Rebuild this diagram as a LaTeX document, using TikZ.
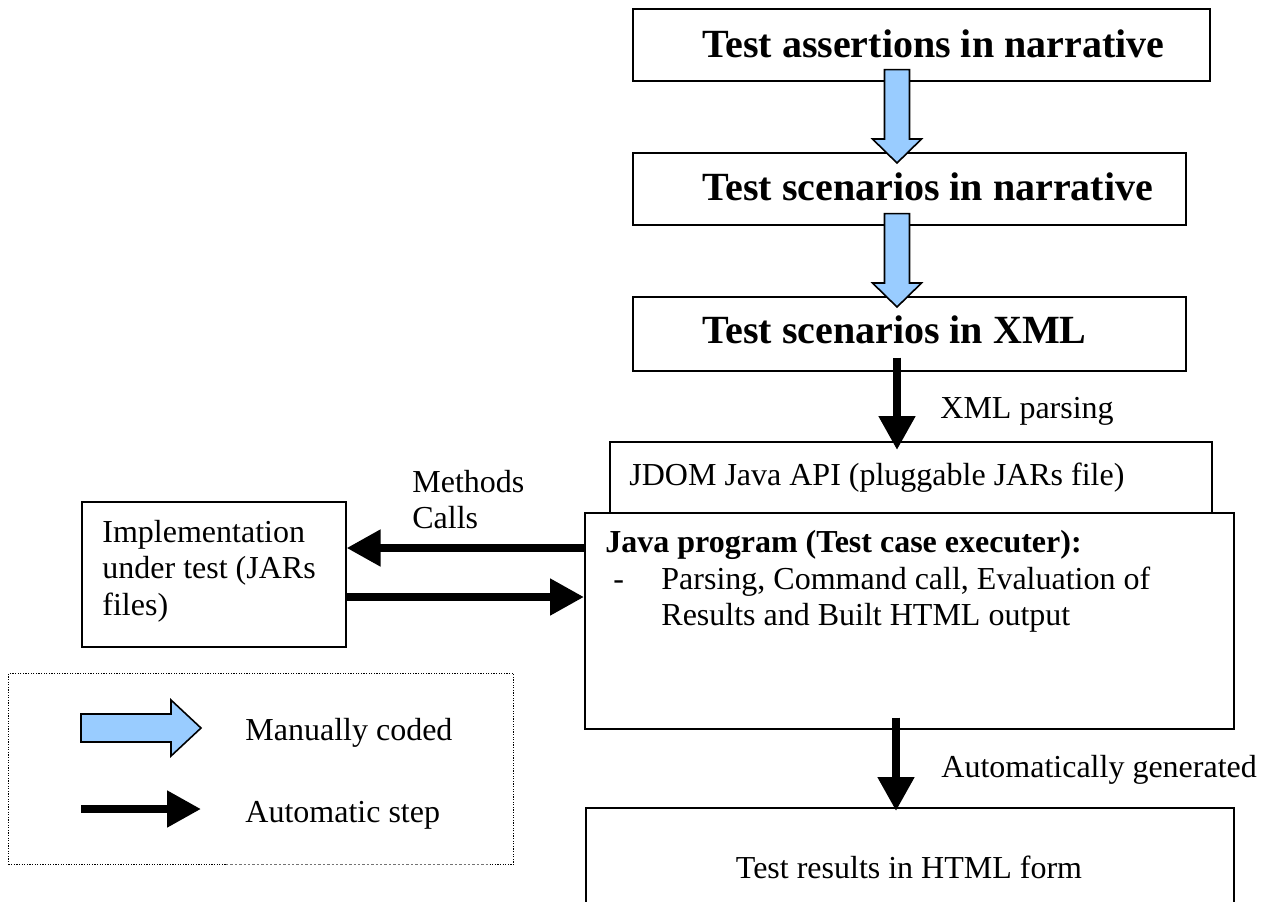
\documentclass[tikz,border=0pt]{standalone}
\usepackage{fontspec}
\setmainfont{Liberation Serif}
\usetikzlibrary{arrows.meta,calc}
\definecolor{manualblue}{HTML}{99CCFF}
\tikzset{
  box/.style={draw, line width=0.8pt, fill=white, inner sep=0pt, anchor=north west},
  legendbox/.style={draw, line width=0.6pt, dash pattern=on 0.6pt off 0.7pt, inner sep=0pt, anchor=north west},
  title/.style={font=\fontsize{20}{24}\selectfont\bfseries, inner sep=0pt, anchor=base west},
  txt/.style={font=\fontsize{16}{19}\selectfont, inner sep=0pt, anchor=base west},
  boldtxt/.style={txt, font=\fontsize{16}{19}\selectfont\bfseries},
  auto step/.style={line width=4pt, -{Triangle[length=17pt,width=17.5pt]}},
  manual/.style={draw, line width=0.8pt, fill=manualblue, line join=miter},
}
% wide light-blue block arrow pointing down from #1 to #2
\newcommand\manualarrow[2]{%
  \path[manual] let \p1=(#1), \p2=(#2) in
    (\x1-6.25pt,\y1) -- (\x1-6.25pt,\y2+12pt) -- (\x1-12.25pt,\y2+12pt) --
    (\x1,\y2) -- (\x1+12.25pt,\y2+12pt) -- (\x1+6.25pt,\y2+12pt) --
    (\x1+6.25pt,\y1) -- cycle;}

\begin{document}
\begin{tikzpicture}[x=0.5pt,y=-0.5pt]
\clip (0,0) rectangle (1264,901);
\fill[white] (0,0) rectangle (1264,901);

% main column of boxes
\node[box, minimum width=288.5pt, minimum height=36pt] (assert) at (632,8) {};
\node[box, minimum width=276.5pt, minimum height=36pt] (scen) at (632,152) {};
\node[box, minimum width=276.5pt, minimum height=37pt] (xml) at (632,296) {};
\node[box, minimum width=301pt, minimum height=35.5pt] (jdom) at (609,441) {};
\node[box, minimum width=324.5pt, minimum height=108pt] (java) at (584,512) {};
\node[box, minimum width=324pt, minimum height=60pt] (result) at (585,807) {};
\node[box, minimum width=132pt, minimum height=72.5pt] (impl) at (81,501) {};

% legend frame, its lower edge partly fainter
\node[legendbox, minimum width=252.5pt, minimum height=95.5pt] (legend) at (8,673) {};
\draw[white, line width=1pt] (226,864) -- (488,864);
\draw[black!55, line width=0.4pt, dash pattern=on 1.2pt off 1pt] (226,864) -- (488,864);

% box texts
\node[title] (assertT) at (702,57) {Test assertions in narrative};
\node[title] (scenT) at (702,200) {Test scenarios in narrative};
\node[title] (xmlT) at (702,343) {Test scenarios in XML};
\node[txt] (jdomT) at (629,485) {JDOM Java API (pluggable JARs file)};
\node[boldtxt] (javaT) at (605,552) {Java program (Test case executer):};
\node[txt] (javaDash) at (613,589) {-};
\node[txt] (javaL1) at (661,589) {Parsing, Command call, Evaluation of};
\node[txt] (javaL2) at (661,625) {Results and Built HTML output};
\node[txt, anchor=base] (resultT) at (909,878) {Test results in HTML form};
\node[txt] (implL1) at (102,542) {Implementation};
\node[txt] (implL2) at (102,578) {under test (JARs};
\node[txt] (implL3) at (102,615) {files)};

% connector labels
\node[txt] (parseL) at (940,418) {XML parsing};
\node[txt] (methL1) at (412,492) {Methods};
\node[txt] (methL2) at (412,528) {Calls};
\node[txt] (genL) at (941,777) {Automatically generated};

% connectors
\coordinate (axis) at (897,0);
\coordinate (axisB) at (896,0);
\coordinate (callY) at (0,548);
\coordinate (retY) at (0,597);

\manualarrow{$(assert.south -| axis)+(0,-12)$}{$(scen.north -| axis)+(0,11)$}
\manualarrow{$(scen.south -| axis)+(0,-12)$}{$(xml.north -| axis)+(0,11)$}
\draw[auto step] ($(xml.south -| axis)+(0,-14)$) -- ($(jdom.north -| axis)+(0,9)$);
\draw[auto step] (java.west |- callY) -- (impl.east |- callY);
\draw[auto step] (impl.east |- retY) -- (java.west |- retY);
\draw[auto step] ($(java.south -| axisB)+(0,-12)$) -- ($(result.north -| axisB)+(0,4)$);

% legend
\path[manual] (81,714) -- (171,714) -- (171,700) -- (201,728) -- (171,756)
  -- (171,742) -- (81,742) -- cycle;
\coordinate (keyA) at (81,809);
\coordinate (keyB) at (201,809);
\draw[auto step] (keyA) -- (keyB);
\node[txt] (keyManual) at (245,740) {Manually coded};
\node[txt] (keyAuto) at (245,822) {Automatic step};
\end{tikzpicture}
\end{document}
